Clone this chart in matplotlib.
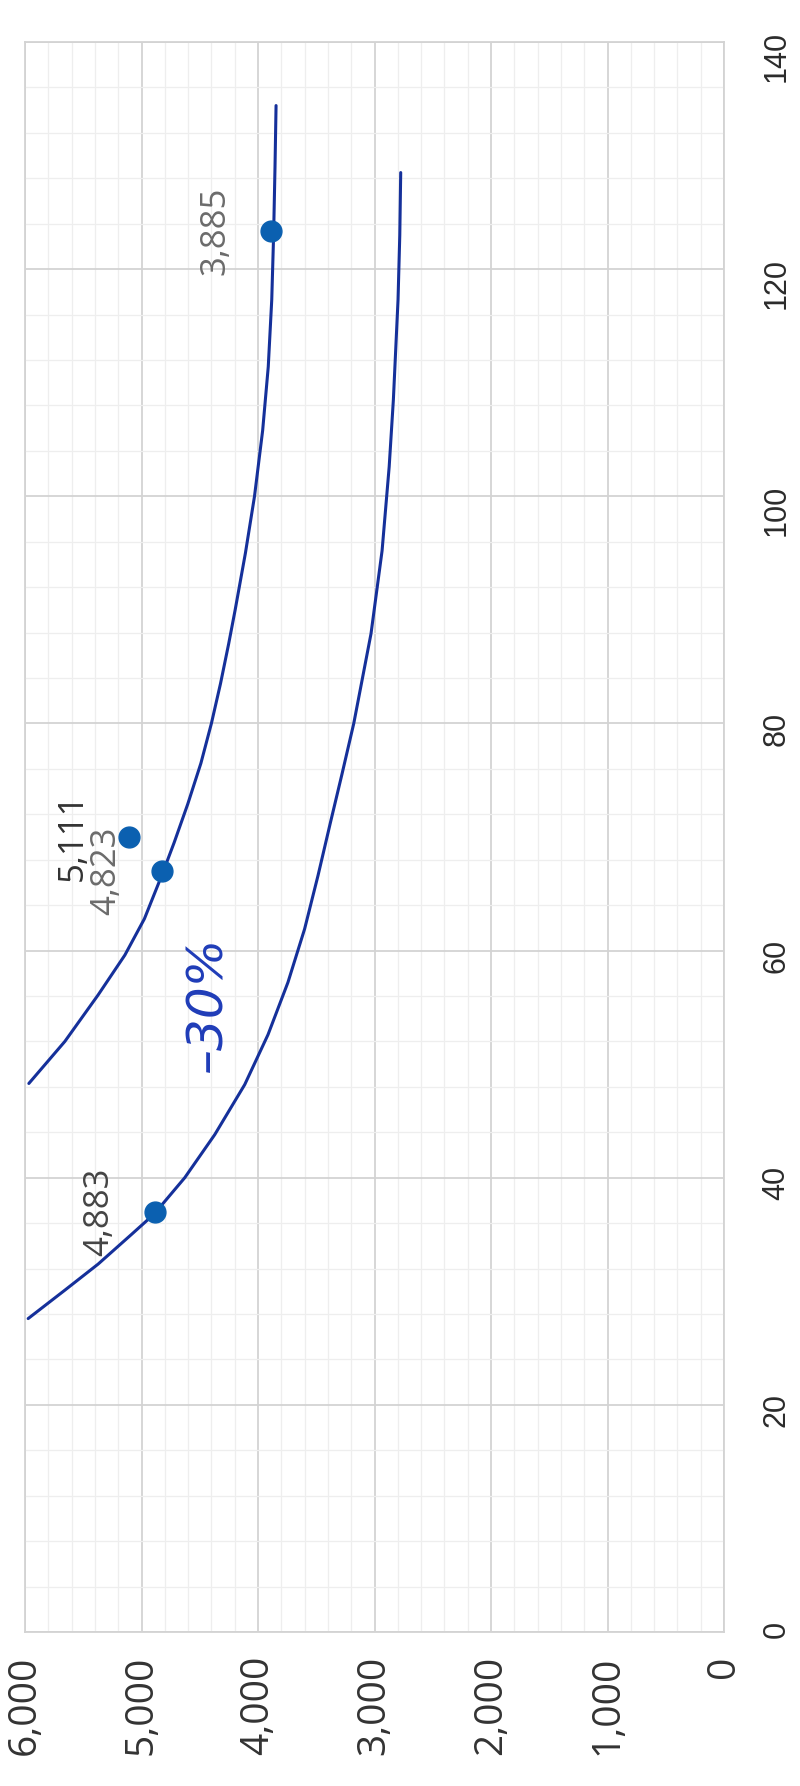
import matplotlib
matplotlib.use("Agg")
import matplotlib.pyplot as plt
from matplotlib.ticker import MultipleLocator

# The scanned chart lies on its side: x (0..140) runs up the page,
# the values (0..6,000) run from right to left along the bottom.

# Data points and their labels
pt_x = [37.0, 67.0, 70.0, 123.4]
pt_y = [4883, 4823, 5111, 3885]
pt_labels = ["4,883", "4,823", "5,111", "3,885"]
pt_label_colors = ["#444444", "#6b6b6b", "#333333", "#6b6b6b"]

# Hand-drawn trend curves
upper_x = [48.3, 52.0, 56.1, 59.6, 62.8, 66.7, 69.5, 72.9, 76.5, 80.0,
           83.5, 87.0, 90.0, 95.0, 100.0, 105.8, 111.4, 117.3, 123.0,
           129.0, 134.4]
upper_y = [5967, 5658, 5372, 5143, 4975, 4823, 4720, 4603, 4490, 4400,
           4322, 4252, 4196, 4108, 4030, 3960, 3912, 3882, 3866,
           3854, 3845]

lower_x = [27.6, 30.1, 32.4, 35.0, 36.8, 40.0, 43.8, 48.2, 52.6, 57.2,
           61.9, 66.6, 71.2, 75.5, 80.0, 87.9, 95.2, 102.6, 108.5,
           117.3, 123.0, 128.5]
lower_y = [5973, 5658, 5372, 5087, 4892, 4629, 4371, 4114, 3914, 3743,
           3600, 3485, 3380, 3280, 3178, 3030, 2935, 2874, 2838,
           2798, 2783, 2775]

# Axis ticks
x_ticks = [0, 20, 40, 60, 80, 100, 120, 140]
y_ticks = [0, 1000, 2000, 3000, 4000, 5000, 6000]

note_text = "–30%"

PEN = "#15309a"
DOT = "#0b60b0"
GRID = "#d3d3d3"


def main():
    fig = plt.figure(figsize=(8, 17.86), dpi=100)
    ax = fig.add_axes([0.03125, 0.0862, 0.87375, 0.8903])

    ax.set_xlim(6000, 0)
    ax.set_ylim(0, 140)

    # grid
    ax.xaxis.set_minor_locator(MultipleLocator(200))
    ax.yaxis.set_minor_locator(MultipleLocator(4))
    ax.grid(which="major", color=GRID, lw=1.3)
    ax.grid(which="minor", color="#eeeeee", lw=0.9)
    ax.set_axisbelow(True)
    for s in ax.spines.values():
        s.set_color(GRID)
        s.set_linewidth(1.3)

    # ticks
    ax.yaxis.tick_right()
    ax.set_xticks(y_ticks)
    ax.set_xticklabels([f"{v:,}" for v in y_ticks], fontfamily="Open Sans",
                       fontsize=28, color="#333333", rotation=90)
    ax.set_yticks(x_ticks)
    ax.set_yticklabels([str(v) for v in x_ticks], fontfamily="Liberation Sans",
                       fontsize=22, color="#2b2b2b", rotation=90)
    ax.tick_params(which="both", length=0)
    ax.tick_params(axis="x", pad=17)
    ax.tick_params(axis="y", pad=27)

    # curves
    ax.plot(upper_y, upper_x, color=PEN, lw=2.2, solid_capstyle="round",
            solid_joinstyle="round", zorder=3)
    ax.plot(lower_y, lower_x, color=PEN, lw=2.2, solid_capstyle="round",
            solid_joinstyle="round", zorder=3)

    # points and labels
    ax.plot(pt_y, pt_x, "o", color=DOT, markersize=15, zorder=4)
    for xv, yv, lab, c in zip(pt_x, pt_y, pt_labels, pt_label_colors):
        ax.annotate(lab, (yv, xv), xytext=(-56, 0), textcoords="offset pixels",
                    rotation=90, ha="center", va="center", fontsize=25,
                    fontfamily="Open Sans", color=c, zorder=5)

    # handwritten note
    ax.text(4438, 55.3, note_text, rotation=90, ha="center", va="center",
            fontsize=36, fontstyle="italic", color="#1f3cb8", zorder=5)

    fig.savefig("out.png", dpi=100)
    plt.close(fig)


if __name__ == "__main__":
    main()
